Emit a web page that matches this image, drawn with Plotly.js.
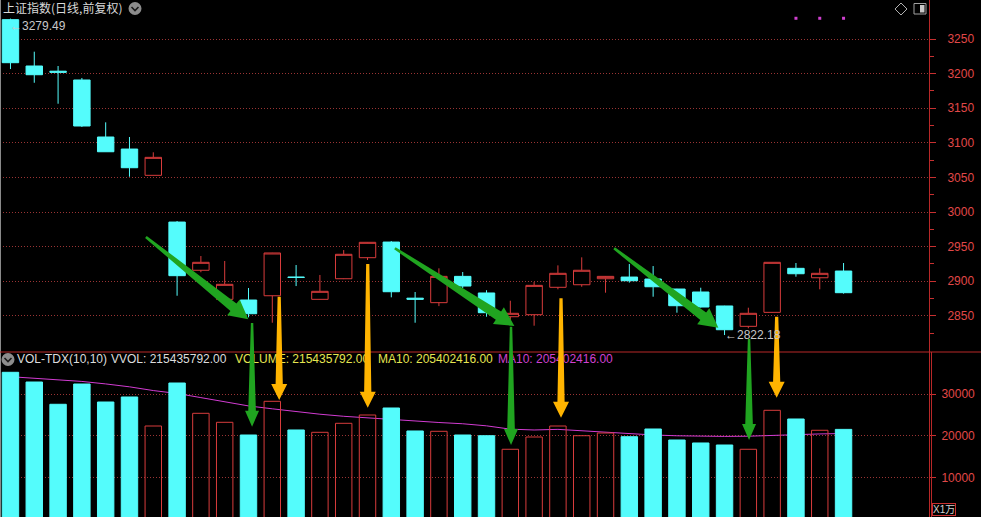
<!DOCTYPE html>
<html><head><meta charset="utf-8">
<script src="https://cdn.plot.ly/plotly-3.0.1.min.js"></script>
<style>html,body{margin:0;padding:0;background:#000;}#chart{width:981px;height:517px;}</style>
</head><body><div id="chart"></div>
<script>
// ---- data (index of trading day, OHLC, volume in 万, MA10 of volume) ----
const days  = [0,1,2,3,4,5,6,7,8,9,10,11,12,13,14,15,16,17,18,19,20,21,22,23,24,25,26,27,28,29,30,31,32,33,34,35];
const open  = [3278,3211,3203.5,3190.8,3108.4,3091,3053,2985.5,2915.8,2873.8,2872.8,2879,2906,2873.8,2903.6,2934,2956.6,2875.5,2869,2907,2883,2848.7,2851.6,2891.2,2894.9,2903.6,2906,2903.2,2888.7,2884.4,2864.2,2834.8,2855,2918.6,2905,2914.7];
const high  = [3279.49,3231.7,3211,3193.7,3129.6,3108.4,3086.3,2987,2936.4,2929.2,2890.2,2941,2923.4,2909,2945,2956.5,2958,2884.4,2918.6,2913.3,2887,2871.8,2898.8,2922.9,2934.5,2907.5,2924.9,2921.9,2889,2890.6,2864.5,2861.7,2927.5,2926.3,2918.6,2926.3];
const low   = [3206.6,3186.8,3156.5,3122.9,3087,3051,3053,2879,2913,2873,2847.8,2840,2893,2873.5,2903,2930.6,2876.7,2840,2864,2890,2848.7,2838,2835.7,2888.3,2892,2883.4,2898,2877.6,2854.5,2862,2822.18,2832,2854.5,2906.5,2888.3,2882];
const close = [3215.8,3198.4,3202,3124.3,3087.1,3064,3079,2908,2927.3,2895.5,2853,2940.8,2905.5,2885.4,2938.9,2956.2,2884.8,2874,2907,2893,2854.5,2853.6,2894,2911.4,2915.8,2907,2900.7,2892,2864.6,2862.7,2829.9,2853.6,2927.3,2910.8,2911.4,2883.4];
const volume = [35300,32960,27590,32480,28140,29350,22360,32720,25420,23250,20190,28310,21400,20840,23010,25010,26700,21160,21080,20190,20020,16750,19710,22360,20020,20670,19780,21640,18990,18270,17780,16750,26140,24050,21330,21544];
const ma10   = [34240,33900,33600,33100,32500,31800,30900,30200,29200,28200,27200,26500,25800,25200,24700,24300,23900,23500,23200,22900,22400,21600,21400,21550,21200,20800,20500,20200,20000,19900,19850,19900,20100,20350,20450,20550];
const markerDays = [33,34,35];
const markerPrice = [3280,3280,3280];
const priceTicks = [2850,2900,2950,3000,3050,3100,3150,3200,3250];
const priceMinor = [2825,2875,2925,2975,3025,3075,3125,3175,3225];
const volTicks = [10000,20000,30000];
const volTickText = ['10000','20000','30000'];
const legendTexts = ['VOL-TDX(10,10)','VVOL: 215435792.00','VOLUME: 215435792.00','MA10: 205402416.00','MA10: 205402416.00'];

// ---- geometry ----
const W = 981, H = 517, PW = 929, SPLIT = 352;
const XR = [-0.44, 38.59];
const PR = [2797.7, 3306.4];
const VR = [434, 40190];
const RED = '#d83c3c', CYAN = '#54fcfc', GRID = '#9a3434';

function xpx(i){ return (i - XR[0])/(XR[1]-XR[0])*PW; }
function ppx(p){ return (PR[1]-p)/(PR[1]-PR[0])*SPLIT; }
function vpx(v){ return SPLIT + (VR[1]-v)/(VR[1]-VR[0])*(H-SPLIT); }
function pxToIdx(px){ return px/PW*(XR[1]-XR[0]) + XR[0]; }
function pyToVol(py){ return VR[1] - (py-SPLIT)/(H-SPLIT)*(VR[1]-VR[0]); }
function fx(px){ return px/PW; }
function fy(py){ return 1 - py/H; }

function arrowPath(tx,ty,hx,hy,w0,w1,L,Hh){
  const dx=hx-tx, dy=hy-ty, len=Math.hypot(dx,dy), ux=dx/len, uy=dy/len, nx=-uy, ny=ux;
  const bx=hx-ux*L, by=hy-uy*L;
  const pts=[[tx+nx*w0,ty+ny*w0],[bx+nx*w1,by+ny*w1],[bx+nx*Hh,by+ny*Hh],[hx,hy],
             [bx-nx*Hh,by-ny*Hh],[bx-nx*w1,by-ny*w1],[tx-nx*w0,ty-ny*w0]];
  return 'M'+pts.map(p=>fx(p[0]).toFixed(5)+','+fy(p[1]).toFixed(5)).join('L')+'Z';
}

// annotation arrows, anchored in data units
const greenDiag = [[5.69,2964,9.99,2845],[16.15,2947.6,21.17,2835.3],[25.36,2947.6,29.74,2832.8]];
const greenVert = [[10.15,2839.6,22190],[21.03,2834.3,17780],[31.03,2816.5,18990]];
const orangeVert = [[11.29,2877.6,28630],[15.01,2924.9,26770],[23.13,2875.3,24360],[32.19,2848.7,29180]];
const GREEN = '#20a420', ORANGE = '#ffb400';

const shapes = [];
shapes.push({type:'line',xref:'paper',yref:'paper',x0:fx(0.5),x1:fx(0.5),y0:0,y1:1,line:{color:'#8a8a8a',width:1}});
shapes.push({type:'line',xref:'paper',yref:'paper',x0:0,x1:fx(W),y0:fy(SPLIT),y1:fy(SPLIT),line:{color:'#b82828',width:1}});
shapes.push({type:'line',xref:'paper',yref:'paper',x0:fx(931.5),x1:fx(931.5),y0:0,y1:fy(SPLIT),line:{color:'#b82828',width:1}});
function chevron(cx,cy){
  shapes.push({type:'circle',xref:'paper',yref:'paper',x0:fx(cx-6.5),x1:fx(cx+6.5),y0:fy(cy+6.5),y1:fy(cy-6.5),fillcolor:'#8c8c8c',line:{width:0}});
  shapes.push({type:'path',xref:'paper',yref:'paper',path:'M'+fx(cx-3.5)+','+fy(cy-1.5)+'L'+fx(cx)+','+fy(cy+2)+'L'+fx(cx+3.5)+','+fy(cy-1.5),line:{color:'#1a1a1a',width:1.6}});
}
chevron(135,8.5);
chevron(8,359.5);
shapes.push({type:'path',xref:'paper',yref:'paper',path:'M'+fx(895)+','+fy(9)+'L'+fx(901)+','+fy(3)+'L'+fx(907)+','+fy(9)+'L'+fx(901)+','+fy(15)+'Z',line:{color:'#b0b0b0',width:1}});
shapes.push({type:'rect',xref:'paper',yref:'paper',x0:fx(914),x1:fx(926),y0:fy(14),y1:fy(3.5),line:{color:'#a0a0a0',width:1},fillcolor:'rgba(0,0,0,0)'});
shapes.push({type:'rect',xref:'paper',yref:'paper',x0:fx(920),x1:fx(924.5),y0:fy(12.5),y1:fy(5),line:{width:0},fillcolor:'#c8c8c8'});
greenDiag.forEach(a=>shapes.push({type:'path',xref:'paper',yref:'paper',layer:'above',fillcolor:GREEN,line:{width:0},
  path:arrowPath(xpx(a[0]),ppx(a[1]),xpx(a[2]),ppx(a[3]),1.3,4.8,19,10)}));
greenVert.forEach(a=>shapes.push({type:'path',xref:'paper',yref:'paper',layer:'above',fillcolor:GREEN,line:{width:0},
  path:arrowPath(xpx(a[0]),ppx(a[1]),xpx(a[0]),vpx(a[2]),1.2,3.8,16,7)}));
orangeVert.forEach(a=>shapes.push({type:'path',xref:'paper',yref:'paper',layer:'above',fillcolor:ORANGE,line:{width:0},
  path:arrowPath(xpx(a[0]),ppx(a[1]),xpx(a[0]),vpx(a[2]),1.6,3.6,16,8)}));

// ---- traces ----
const up = close.map((c,i)=>c>open[i]);
const candle = {type:'candlestick', x:days, open:open, high:high, low:low, close:close, xaxis:'x', yaxis:'y',
  increasing:{line:{color:RED,width:1}, fillcolor:'#000000'},
  decreasing:{line:{color:CYAN,width:1}, fillcolor:CYAN},
  whiskerwidth:0, hoverinfo:'skip', showlegend:false};
const dots = {type:'scatter', mode:'markers', x:markerDays, y:markerPrice, xaxis:'x', yaxis:'y',
  marker:{color:'#d040d0', size:3, symbol:'square'}, hoverinfo:'skip'};
const maLine = {type:'scatter', mode:'lines', x:days, y:ma10, xaxis:'x', yaxis:'y2',
  line:{color:'#d23cd2', width:1}, hoverinfo:'skip'};
const volBars = {type:'bar', x:days, y:volume, xaxis:'x', yaxis:'y3', width:0.69,
  marker:{color:up.map(u=>u?'rgba(0,0,0,0)':CYAN), line:{color:up.map(u=>u?RED:CYAN), width:1}},
  hoverinfo:'skip'};
const legPx = [17,111,235,378,498];
const legend = {type:'scatter', mode:'text', x:legPx.map(pxToIdx), y:legPx.map(()=>pyToVol(359.5)),
  text:legendTexts, textposition:'middle right', cliponaxis:false, xaxis:'x', yaxis:'y2',
  textfont:{family:'Liberation Sans, Arial, sans-serif', size:12, color:['#dcdcdc','#dcdcdc','#e6e650','#e6e650','#d040d0']},
  hoverinfo:'skip'};

const tickFont = {family:'Liberation Sans, Arial, sans-serif', size:12, color:'#e04848'};
const layout = {
  width:W, height:H, margin:{l:0,r:W-PW,t:0,b:0},
  paper_bgcolor:'#000', plot_bgcolor:'#000', showlegend:false,
  boxgap:0.31, boxgroupgap:0, barmode:'overlay', hovermode:false,
  title:{text:'上证指数(日线,前复权)', xref:'container', yref:'container', x:3/W, xanchor:'left', y:1-9/H, yanchor:'middle',
    font:{family:'Noto Sans CJK SC, sans-serif', size:12, color:'#d8d8d8'}},
  xaxis:{range:XR, visible:false, rangeslider:{visible:false}, anchor:'y2', fixedrange:true},
  yaxis:{domain:[1-SPLIT/H,1], range:PR, side:'right', anchor:'x', tickmode:'array', tickvals:priceTicks,
    showgrid:true, gridcolor:GRID, griddash:'1px,2px', gridwidth:1, zeroline:false,
    showline:true, linecolor:'#b82828', linewidth:1, ticks:'outside', ticklen:6, tickcolor:'#c83030',
    ticklabelstandoff:9, tickfont:tickFont,
    minor:{tickmode:'array', tickvals:priceMinor, ticks:'outside', ticklen:4, tickcolor:'#c83030', showgrid:false},
    fixedrange:true},
  yaxis2:{domain:[0,1-SPLIT/H], range:VR, side:'right', anchor:'x', tickmode:'array', tickvals:volTicks, ticktext:volTickText,
    showgrid:true, gridcolor:GRID, griddash:'1px,2px', gridwidth:1, zeroline:false,
    showline:true, linecolor:'#b82828', linewidth:1, ticks:'outside', ticklen:6, tickcolor:'#c83030',
    ticklabelstandoff:3, tickfont:tickFont, fixedrange:true},
  yaxis3:{overlaying:'y2', range:VR, visible:false, side:'right', fixedrange:true},
  shapes:shapes,
  annotations:[
    {xref:'x', yref:'y', x:0, y:high[0], xanchor:'left', yanchor:'top', showarrow:false, text:'←'+high[0].toFixed(2),
      font:{family:'Liberation Sans, Arial, sans-serif', size:12, color:'#c8c8c8'}, xshift:-2, yshift:2},
    {xref:'x', yref:'y', x:30, y:low[30], xanchor:'left', yanchor:'middle', showarrow:false, text:'←'+low[30].toFixed(2),
      font:{family:'Liberation Sans, Arial, sans-serif', size:12, color:'#c8c8c8'}, xshift:-2},
    {xref:'paper', yref:'paper', x:fx(932), y:fy(503), xanchor:'left', yanchor:'top', showarrow:false, text:'X1万',
      font:{family:'Liberation Sans, Noto Sans CJK SC, sans-serif', size:10, color:'#d0d0d0'},
      bordercolor:'#c83030', borderwidth:1, borderpad:0}
  ]
};
Plotly.newPlot('chart', [maLine, legend, volBars, candle, dots], layout, {displayModeBar:false, staticPlot:true});
</script></body></html>
